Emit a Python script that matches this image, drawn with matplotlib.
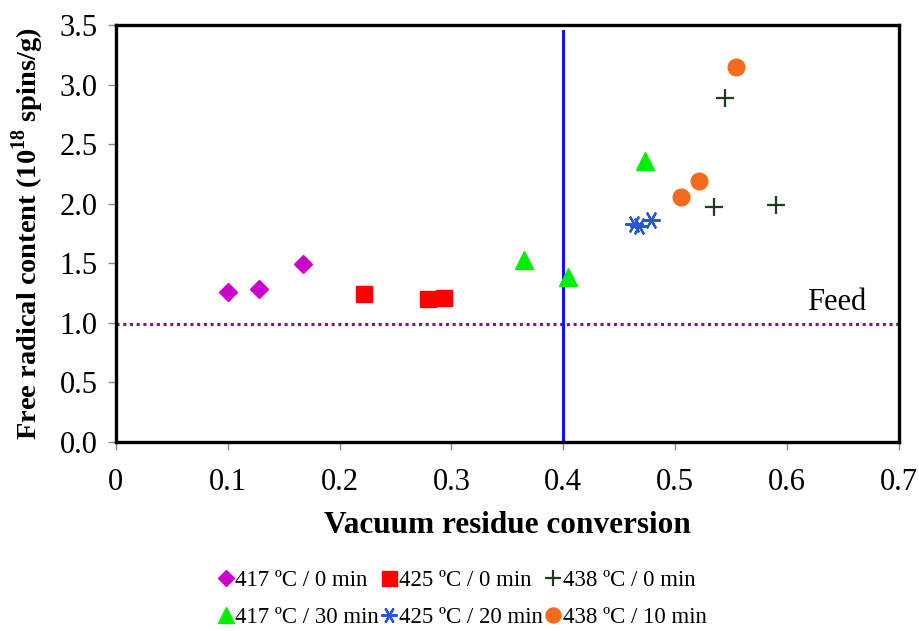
import matplotlib
matplotlib.use("Agg")
import matplotlib.pyplot as plt
from matplotlib.ticker import FuncFormatter

plt.rcParams.update({
    "font.family": "serif",
    "font.serif": ["Liberation Serif", "DejaVu Serif"],
    "mathtext.fontset": "custom",
    "mathtext.rm": "Liberation Serif",
    "mathtext.bf": "Liberation Serif:bold",
})

#series
x_417_0 = [0.100, 0.128, 0.167]
y_417_0 = [1.26, 1.28, 1.49]
x_425_0 = [0.222, 0.279, 0.293]
y_425_0 = [1.24, 1.20, 1.21]
x_438_0 = [0.545, 0.535, 0.590]
y_438_0 = [2.89, 1.97, 1.99]
x_417_30 = [0.365, 0.404, 0.473]
y_417_30 = [1.53, 1.38, 2.36]
x_425_20 = [0.463, 0.468, 0.478]
y_425_20 = [1.83, 1.81, 1.86]
x_438_10 = [0.554, 0.521, 0.505]
y_438_10 = [3.15, 2.19, 2.06]

feed_level = 0.99
feed_x = [0.0, 0.7]
conv_line_x = 0.4
conv_line_y = [0.0, 3.45]

fig = plt.figure(figsize=(9.2, 6.31), dpi=100)
ax = fig.add_axes([0.126, 0.300, 0.851, 0.660])

ax.plot(feed_x, [feed_level, feed_level], ls=(0, (1, 1.2)), lw=2.2,
        color="#7a1a7a", zorder=1)
ax.plot([conv_line_x, conv_line_x], conv_line_y, lw=2.2, color="#0a14ff",
        zorder=1)

h1, = ax.plot(x_417_0, y_417_0, ls="none", marker="D", ms=9,
              color="#cc00cc", label="417 ºC / 0 min")
h2, = ax.plot(x_425_0, y_425_0, ls="none", marker="s", ms=12,
              color="#ff0000", label="425 ºC / 0 min")
h3, = ax.plot(x_438_0, y_438_0, ls="none", marker="+", ms=13, mew=1.6,
              color="#1a3d1a", label="438 ºC / 0 min")
h4, = ax.plot(x_417_30, y_417_30, ls="none", marker="^", ms=13,
              color="#00ee00", label="417 ºC / 30 min")
h5, = ax.plot(x_425_20, y_425_20, ls="none", marker=(6, 2, 30), ms=13,
              mew=1.6, color="#2a55dd", label="425 ºC / 20 min")
h6, = ax.plot(x_438_10, y_438_10, ls="none", marker="o", ms=12,
              color="#f26b1d", label="438 ºC / 10 min")

ax.text(0.644, 1.17, "Feed", fontsize=22, ha="center", va="center")

ax.set_xlim(0, 0.7)
ax.set_ylim(0, 3.5)
ax.set_xticks([0, 0.1, 0.2, 0.3, 0.4, 0.5, 0.6, 0.7])
ax.set_yticks([0, 0.5, 1.0, 1.5, 2.0, 2.5, 3.0, 3.5])
ax.xaxis.set_major_formatter(FuncFormatter(lambda v, p: "0" if v == 0 else f"{v:.1f}"))
ax.yaxis.set_major_formatter(FuncFormatter(lambda v, p: f"{v:.1f}"))
ax.tick_params(labelsize=22, length=6, width=1, color="#888888", pad=7)
ax.tick_params(axis="x", pad=13)
for s in ax.spines.values():
    s.set_linewidth(2.4)
    s.set_color("black")

ax.set_xlabel("Vacuum residue conversion", fontsize=22.5, fontweight="bold",
              labelpad=10)
ax.set_ylabel(r"Free radical content (10$^{\mathbf{18}}$ spins/g)",
              fontsize=20.5, fontweight="bold", labelpad=10)

#legend is filled row by row in the reference
fig.legend(handles=[h1, h4, h2, h5, h3, h6], ncol=3, frameon=False,
           loc="center", bbox_to_anchor=(0.503, 0.051), fontsize=16.5,
           handlelength=0.6, handletextpad=0.12, columnspacing=0.15,
           labelspacing=0.7, markerscale=0.9)

fig.savefig("out.png", dpi=100)
